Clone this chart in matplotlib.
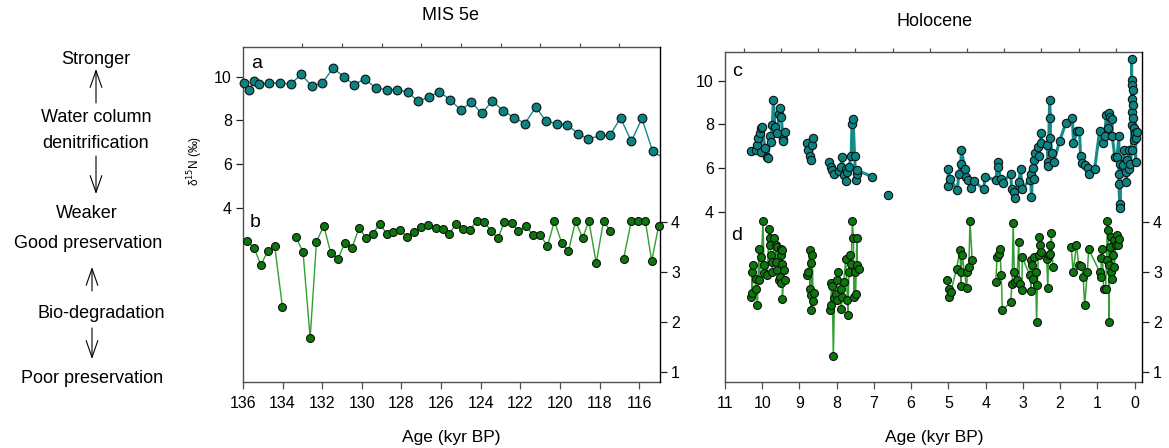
import numpy as np
import matplotlib
matplotlib.use("Agg")
import matplotlib.pyplot as plt
from matplotlib.patches import FancyArrowPatch
from matplotlib.ticker import FixedLocator

plt.rcParams['font.family'] = ['Liberation Sans', 'DejaVu Sans']

# ---------------- data ----------------
# MIS 5e, panel a (bulk d15N, left axis)
mis_a_age = [136.15, 135.95, 135.7, 135.46, 135.2, 134.69, 134.14, 133.6, 133.07, 132.53,
             131.99, 131.45, 130.92, 130.39, 129.85, 129.29, 128.75, 128.23, 127.69, 127.15,
             126.63, 126.09, 125.55, 125.01, 124.47, 123.95, 123.41, 122.86, 122.31, 121.77,
             121.22, 120.70, 120.16, 119.62, 119.09, 118.56, 118.0, 117.48, 116.94, 116.40,
             115.86, 115.32, 114.7]
mis_a_d15n = [9.2, 9.72, 9.39, 9.80, 9.66, 9.70, 9.74, 9.66, 10.11, 9.59,
              9.72, 10.41, 10.0, 9.63, 9.92, 9.47, 9.42, 9.42, 9.30, 8.88,
              9.07, 9.31, 8.96, 8.48, 8.84, 8.32, 8.90, 8.44, 8.13, 7.86,
              8.61, 7.96, 7.86, 7.79, 7.40, 7.14, 7.31, 7.31, 8.12, 7.04,
              8.09, 6.58, 6.25]

# MIS 5e, panel b (preservation, right axis)
mis_b_age = [135.78, 135.44, 135.1, 134.75, 134.4, 134.01, 133.34, 132.97, 132.61, 132.29,
             131.92, 131.57, 131.2, 130.86, 130.5, 130.14, 129.8, 129.46, 129.09, 128.75,
             128.42, 128.08, 127.71, 127.35, 127.02, 126.65, 126.27, 125.92, 125.59, 125.25,
             124.88, 124.54, 124.2, 123.83, 123.48, 123.12, 122.8, 122.43, 122.1, 121.71,
             121.37, 121.0, 120.63, 120.28, 119.92, 119.57, 119.21, 118.86, 118.54, 118.17,
             117.8, 117.45, 116.79, 116.4, 116.05, 115.69, 115.37, 115.02]
mis_b_val = [3.61, 3.47, 3.13, 3.41, 3.51, 2.29, 3.70, 3.39, 1.67, 3.60,
             3.91, 3.37, 3.26, 3.57, 3.47, 3.87, 3.68, 3.76, 3.95, 3.76,
             3.79, 3.84, 3.69, 3.79, 3.90, 3.94, 3.87, 3.85, 3.75, 3.95,
             3.85, 3.84, 4.01, 4.0, 3.81, 3.67, 4.0, 3.98, 3.81, 3.91,
             3.73, 3.73, 3.51, 4.01, 3.58, 3.41, 4.01, 3.67, 4.01, 3.17,
             4.01, 3.81, 3.25, 4.01, 4.01, 4.01, 3.21, 3.91]

# Holocene, panel c
hol_c_age = [10.29, 10.18, 10.15, 10.11, 10.06, 10.04, 10.02, 10.00, 9.93, 9.88,
             9.85, 9.79, 9.77, 9.73, 9.70, 9.66, 9.59, 9.55, 9.53, 9.49,
             9.44, 9.44, 9.40,
             8.81, 8.77, 8.73, 8.70, 8.65, 8.63,
             8.20, 8.16, 8.12, 8.06, 7.94, 7.89, 7.85, 7.81, 7.76, 7.76,
             7.71, 7.67, 7.61, 7.59, 7.56, 7.52, 7.49, 7.46, 7.45, 7.04,
             6.61,
             5.02, 5.00, 4.96, 4.76, 4.72, 4.67, 4.65, 4.56, 4.54, 4.47,
             4.38, 4.32, 4.05, 4.02, 3.73, 3.66, 3.66, 3.60, 3.54, 3.33,
             3.30, 3.24, 3.21, 3.11, 3.06, 3.02, 2.82, 2.79, 2.77, 2.73,
             2.70, 2.70, 2.68, 2.59, 2.57, 2.50, 2.50, 2.35, 2.32, 2.32,
             2.28, 2.26, 2.26, 2.23, 2.17, 2.01, 1.85, 1.67, 1.64, 1.54,
             1.48, 1.45, 1.41, 1.32, 1.24, 1.23, 1.07, 0.94, 0.85, 0.80,
             0.76, 0.71, 0.69, 0.65, 0.60, 0.60, 0.53, 0.47, 0.42, 0.42,
             0.42, 0.40, 0.38, 0.38, 0.32, 0.29, 0.24, 0.22, 0.20, 0.15,
             0.15, 0.11, 0.08, 0.08, 0.08, 0.08, 0.06, 0.06, 0.06, 0.05,
             0.05, 0.05, 0.02, 0.02, -0.01, -0.03, -0.03, -0.06]
hol_c_val = [6.79, 6.82, 7.05, 7.39, 7.61, 6.74, 7.82, 7.89, 6.94, 6.51,
             6.47, 7.48, 7.20, 7.97, 9.11, 7.89, 7.59, 8.46, 8.76, 8.35,
             7.31, 7.23, 7.66,
             7.17, 6.82, 6.56, 6.36, 7.05, 7.39,
             6.28, 6.05, 5.90, 5.71, 5.86, 6.05, 6.51, 5.67, 5.98, 5.41,
             5.80, 6.05, 6.56, 8.00, 8.24, 6.56, 5.45, 5.71, 5.90, 5.60,
             4.76,
             5.17, 5.98, 5.52, 4.99, 5.75, 6.17, 6.82, 5.98, 5.60, 5.45,
             5.09, 5.41, 5.02, 5.60, 5.45, 6.28, 6.05, 5.52, 5.32, 5.75,
             5.06, 4.91, 4.61, 5.37, 5.94, 5.06, 5.45, 5.75, 4.68, 6.02,
             5.52, 6.36, 6.70, 6.97, 6.55, 7.61, 7.13, 7.05, 6.28, 6.09,
             9.11, 8.28, 7.36, 6.70, 6.28, 7.25, 8.05, 8.28, 7.13, 7.71,
             7.69, 6.55, 6.24, 6.13, 6.02, 5.72, 5.98, 7.69, 7.13, 7.46,
             8.43, 7.82, 8.53, 8.35, 8.23, 7.46, 6.51, 6.51, 7.46, 5.75,
             5.26, 4.34, 4.19, 6.21, 6.13, 6.82, 5.83, 5.37, 6.36, 6.82,
             5.98, 6.21, 6.82, 10.98, 10.03, 9.15, 9.80, 8.58, 7.97, 9.57,
             8.89, 8.28, 7.82, 7.28, 7.59, 6.28, 7.36, 7.66]

# Holocene, panel d
hol_d_age = [10.29, 10.27, 10.27, 10.24, 10.18, 10.16, 10.13, 10.09, 10.09, 10.02,
             9.98, 9.95, 9.95, 9.86, 9.82, 9.80, 9.79, 9.77, 9.73, 9.73,
             9.68, 9.64, 9.64, 9.59, 9.59, 9.55, 9.52, 9.50, 9.50, 9.50,
             9.46, 9.46, 9.46, 9.42, 9.39,
             8.81, 8.77, 8.72, 8.72, 8.70, 8.70, 8.68, 8.65, 8.64, 8.61,
             8.18, 8.16, 8.14, 8.12, 8.09, 8.06, 8.03, 8.00, 7.98, 7.97,
             7.89, 7.88, 7.85, 7.81, 7.76, 7.71, 7.70, 7.67, 7.64, 7.61,
             7.58, 7.55, 7.54, 7.52, 7.49, 7.46, 7.45, 7.40,
             5.03, 4.99, 4.99, 4.94, 4.78, 4.69, 4.67, 4.67, 4.63, 4.51,
             4.49, 4.45, 4.42, 4.36,
             3.73, 3.69, 3.64, 3.62, 3.58, 3.55, 3.33, 3.29, 3.26, 3.23,
             3.21, 3.16, 3.11, 3.09, 3.02, 3.02, 2.81, 2.79, 2.79, 2.75,
             2.72, 2.70, 2.66, 2.63, 2.61, 2.57, 2.57, 2.54, 2.52, 2.36,
             2.33, 2.31, 2.28, 2.26, 2.24, 2.19,
             1.70, 1.65, 1.56, 1.50, 1.43, 1.38, 1.34, 1.27, 1.23, 0.93,
             0.91, 0.89, 0.87, 0.83, 0.78, 0.75, 0.73, 0.72, 0.69, 0.69,
             0.66, 0.64, 0.63, 0.60, 0.58, 0.56, 0.54, 0.51, 0.47, 0.45,
             0.42]
hol_d_val = [2.49, 2.99, 2.58, 3.14, 2.86, 2.66, 2.33, 3.45, 2.83, 3.29,
             4.01, 2.98, 3.13, 2.93, 3.85, 3.67, 3.54, 3.33, 3.19, 2.99,
             3.67, 3.53, 3.19, 3.49, 3.03, 2.83, 2.89, 3.45, 3.33, 2.78,
             3.43, 3.16, 2.45, 3.03, 2.83,
             2.93, 2.99, 3.43, 2.66, 3.18, 2.53, 2.24, 3.33, 2.41, 2.57,
             2.23, 2.33, 2.78, 2.71, 1.31, 2.47, 2.56, 2.43, 2.83, 2.99,
             2.66, 2.26, 2.49, 2.79, 3.25, 2.43, 2.14, 2.99, 3.34, 3.16,
             4.01, 3.67, 2.49, 2.99, 2.56, 3.67, 3.13, 3.06,
             2.83, 2.65, 2.49, 2.59, 3.06, 3.43, 2.99, 2.71, 3.33, 2.67,
             2.99, 3.09, 4.01, 3.23,
             2.79, 3.29, 3.36, 3.46, 2.93, 2.23, 2.39, 2.76, 3.98, 2.99,
             2.79, 2.83, 3.59, 2.76, 2.63, 3.29, 2.93, 3.23, 2.61, 3.13,
             2.86, 3.29, 2.99, 2.00, 2.73, 3.69, 3.33, 3.53, 3.39, 3.26,
             2.67, 3.33, 3.54, 3.36, 3.78, 3.09,
             3.49, 2.99, 3.54, 3.13, 3.11, 2.89, 2.33, 2.99, 3.45, 2.99,
             2.89, 3.27, 3.46, 2.66, 2.66, 3.23, 4.01, 3.83, 3.13, 2.00,
             3.49, 2.99, 3.69, 2.86, 3.33, 3.63, 3.09, 3.53, 3.74, 3.53,
             3.66]

mis_b_breaks = [133.7, 117.1]
hol_c_breaks = [9.1, 8.4, 6.8, 5.8]
hol_d_breaks = [9.1, 8.4, 6.0, 4.0, 2.0]

mis_ticks = [136, 134, 132, 130, 128, 126, 124, 122, 120, 118, 116]
mis_top_ticks = [133, 131, 129, 127, 125, 123, 121, 119, 117]
hol_ticks = [11, 10, 9, 8, 7, 6, 5, 4, 3, 2, 1, 0]
hol_top_ticks = [10.5, 9.5, 8.5, 7.5, 6.5, 5.5, 4.5, 3.5, 2.5, 1.5, 0.5]
left_yticks = [4, 6, 8, 10]
right_yticks = [1, 2, 3, 4]

# ---------------- style ----------------
W, H = 1169, 448
TEAL_FILL = '#0b8383'
TEAL_LINE = '#158c8c'
GREEN_FILL = '#0a780a'
GREEN_LINE = '#32a032'
SPINE = '#505050'
TICK_FS = 11.5


def with_breaks(x, y, breaks):
    xs, ys = [x[0]], [y[0]]
    for i in range(1, len(x)):
        lo, hi = min(x[i - 1], x[i]), max(x[i - 1], x[i])
        if any(lo < b < hi for b in breaks):
            xs.append(np.nan)
            ys.append(np.nan)
        xs.append(x[i])
        ys.append(y[i])
    return xs, ys


def px(x, y):
    return x / W, 1 - y / H


fig = plt.figure(figsize=(W / 100, H / 100), dpi=100)


def make_panel(rect, xlim, ylim_l, ylim_r, xticks, top_ticks):
    ax = fig.add_axes(rect)
    ax2 = ax.twinx()
    ax.set_xlim(*xlim)
    ax.set_ylim(*ylim_l)
    ax2.set_ylim(*ylim_r)
    ax.xaxis.set_major_locator(FixedLocator(xticks))
    ax.xaxis.set_minor_locator(FixedLocator(top_ticks))
    ax.tick_params(axis='x', which='major', top=False, bottom=True, direction='out',
                   length=5, width=0.9, labelsize=TICK_FS, color=SPINE, pad=5)
    ax.tick_params(axis='x', which='minor', top=True, bottom=False, direction='out',
                   length=3, width=0.9, color=SPINE)
    ax.set_yticks(left_yticks)
    ax.tick_params(axis='y', direction='out', length=5, width=0.9, labelsize=TICK_FS,
                   color='#202020', pad=3)
    ax2.set_yticks(right_yticks)
    ax2.tick_params(axis='y', direction='out', length=5, width=0.9, labelsize=TICK_FS,
                    color='#202020', pad=3)
    for s in ['left', 'top', 'bottom']:
        ax.spines[s].set_color(SPINE)
        ax.spines[s].set_linewidth(1.0)
        ax2.spines[s].set_visible(False)
    ax.spines['right'].set_visible(False)
    ax2.spines['right'].set_color('#000000')
    ax2.spines['right'].set_linewidth(1.0)
    return ax, ax2


def draw_series(ax, x, y, breaks, fill, line, lw, ms, xlim):
    xs, ys = with_breaks(x, y, breaks)
    ax.plot(xs, ys, '-', color=line, lw=lw, zorder=2, solid_joinstyle='round')
    lo, hi = min(xlim), max(xlim)
    mx = [a for a in x if lo <= a <= hi]
    my = [b for a, b in zip(x, y) if lo <= a <= hi]
    ax.plot(mx, my, 'o', ls='none', mfc=fill, mec='#101010', mew=0.8, ms=ms,
            zorder=3, clip_on=False)


# --- MIS 5e ---
mis_xlim = (136, 114.95)
ax_a, ax_b = make_panel([243 / W, 1 - 382 / H, 417 / W, 335 / H], mis_xlim,
                        (-4.0, 11.37), (0.79, 7.49), mis_ticks, mis_top_ticks)
draw_series(ax_a, mis_a_age, mis_a_d15n, [], TEAL_FILL, TEAL_LINE, 1.0, 6.3, mis_xlim)
draw_series(ax_b, mis_b_age, mis_b_val, mis_b_breaks, GREEN_FILL, GREEN_LINE, 1.0, 5.7, mis_xlim)
ax_a.set_ylabel('δ$^{15}$N (‰)', fontsize=8.5)
ax_a.yaxis.set_label_coords(-0.09, 0.66)

# --- Holocene ---
hol_xlim = (11, -0.2)
ax_c, ax_d = make_panel([725 / W, 1 - 382.3 / H, 417 / W, 330.6 / H], hol_xlim,
                        (-3.81, 11.33), (0.79, 7.40), hol_ticks, hol_top_ticks)
draw_series(ax_c, hol_c_age, hol_c_val, hol_c_breaks, TEAL_FILL, TEAL_LINE, 2.2, 6.0, hol_xlim)
draw_series(ax_d, hol_d_age, hol_d_val, hol_d_breaks, GREEN_FILL, GREEN_LINE, 1.1, 5.7, hol_xlim)

# --- texts ---
fig.text(*px(451, 15), 'MIS 5e', ha='center', va='center', fontsize=13)
fig.text(*px(935, 22), 'Holocene', ha='center', va='center', fontsize=13)
fig.text(*px(451, 437), 'Age (kyr BP)', ha='center', va='center', fontsize=12.5)
fig.text(*px(934, 437), 'Age (kyr BP)', ha='center', va='center', fontsize=12.5)
for lab, (x, y) in {'a': (257, 63), 'b': (255, 222), 'c': (737, 72), 'd': (737, 235)}.items():
    fig.text(*px(x, y), lab, ha='center', va='center', fontsize=14)

left_texts = [('Stronger', 96, 59), ('Water column', 96, 117), ('denitrification', 96, 143),
              ('Weaker', 87, 213), ('Good preservation', 88, 243),
              ('Bio-degradation', 101, 313), ('Poor preservation', 92, 378)]
for t, x, y in left_texts:
    fig.text(*px(x, y), t, ha='center', va='center', fontsize=13)

arrows = [((96, 103), (96, 69)), ((96, 156), (96, 194)),
          ((92, 291), (92, 267)), ((92, 328), (92, 359))]
for (x0, y0), (x1, y1) in arrows:
    fig.add_artist(FancyArrowPatch(px(x0, y0), px(x1, y1), transform=fig.transFigure,
                                   arrowstyle='->,head_length=0.8,head_width=0.28',
                                   mutation_scale=15, lw=0.8, color='black',
                                   shrinkA=0, shrinkB=0))

fig.savefig('out.png', dpi=100)
